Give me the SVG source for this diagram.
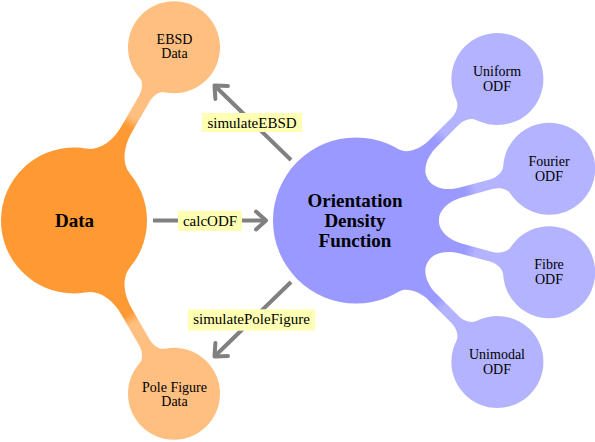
<svg xmlns="http://www.w3.org/2000/svg" width="595" height="442" viewBox="0 0 595 442">
  <style>
    .t { font-family: "Liberation Serif", "DejaVu Serif", serif; fill: #000; text-anchor: middle; }
    .big { font-size: 19px; font-weight: bold; }
    .small { font-size: 14px; }
    .lab { font-size: 15px; }
    .arrow { stroke: #808080; stroke-width: 4; fill: none; marker-end: url(#tip); }
    .labbox { fill: #FFFFB3; }
  </style>
  <defs>
    <linearGradient id="gOrange" gradientUnits="userSpaceOnUse" x1="108" y1="0" x2="119" y2="0">
      <stop offset="0" stop-color="#FF9933"/>
      <stop offset="1" stop-color="#FFBF80"/>
    </linearGradient>
    <linearGradient id="gBlue" gradientUnits="userSpaceOnUse" x1="113" y1="0" x2="124" y2="0">
      <stop offset="0" stop-color="#9999FF"/>
      <stop offset="1" stop-color="#B3B3FF"/>
    </linearGradient>
    <marker id="tip" markerUnits="userSpaceOnUse" viewBox="-14 -12 18 24" refX="0" refY="0" markerWidth="18" markerHeight="24" orient="auto">
      <path d="M-10,-9 L0,0 L-10,9" fill="none" stroke="#808080" stroke-width="4" stroke-linecap="round" stroke-linejoin="round"/>
    </marker>
  </defs>

  <g id="connectors">
    <g id="mindmap-links">
      <path fill="url(#gOrange)" transform="translate(74,220.5) rotate(-60)" d="M0,0 L68.6,-24.97 C72.7,-13.69 87,-6 105,-6 L140,-6 C148,-6 154.7,-9.45 156.25,-14.2 L200,0 L156.25,14.2 C154.7,9.45 148,6 140,6 L105,6 C87,6 72.7,13.69 68.6,24.97 Z"/>
      <path fill="url(#gOrange)" transform="translate(74,220.5) rotate(60)" d="M0,0 L68.6,-24.97 C72.7,-13.69 87,-6 105,-6 L140,-6 C148,-6 154.7,-9.45 156.25,-14.2 L200,0 L156.25,14.2 C154.7,9.45 148,6 140,6 L105,6 C87,6 72.7,13.69 68.6,24.97 Z"/>
      <path fill="url(#gBlue)" transform="translate(356,220.5) rotate(-45)" d="M0,0 L80.53,-20.08 C82.47,-12.32 94,-5 108,-5 L140,-5 C148,-5 154.7,-9.45 156.25,-14.2 L200,0 L156.25,14.2 C154.7,9.45 148,5 140,5 L108,5 C94,5 82.47,12.32 80.53,20.08 Z"/>
      <path fill="url(#gBlue)" transform="translate(356,220.5) rotate(-15)" d="M0,0 L80.53,-20.08 C82.47,-12.32 94,-5 108,-5 L140,-5 C148,-5 154.7,-9.45 156.25,-14.2 L200,0 L156.25,14.2 C154.7,9.45 148,5 140,5 L108,5 C94,5 82.47,12.32 80.53,20.08 Z"/>
      <path fill="url(#gBlue)" transform="translate(356,220.5) rotate(15)" d="M0,0 L80.53,-20.08 C82.47,-12.32 94,-5 108,-5 L140,-5 C148,-5 154.7,-9.45 156.25,-14.2 L200,0 L156.25,14.2 C154.7,9.45 148,5 140,5 L108,5 C94,5 82.47,12.32 80.53,20.08 Z"/>
      <path fill="url(#gBlue)" transform="translate(356,220.5) rotate(45)" d="M0,0 L80.53,-20.08 C82.47,-12.32 94,-5 108,-5 L140,-5 C148,-5 154.7,-9.45 156.25,-14.2 L200,0 L156.25,14.2 C154.7,9.45 148,5 140,5 L108,5 C94,5 82.47,12.32 80.53,20.08 Z"/>
    </g>
  </g>

  <g id="node-data">
    <circle cx="74" cy="220.5" r="73" fill="#FF9933"/>
    <text class="t big" x="74.5" y="226.7">Data</text>
  </g>
  <g id="node-ebsd">
    <circle cx="174" cy="47.3" r="46" fill="#FFBF80"/>
    <text class="t small" x="174.5" y="43.8">EBSD</text>
    <text class="t small" x="174.5" y="58.3">Data</text>
  </g>
  <g id="node-pole">
    <circle cx="174" cy="393.7" r="46" fill="#FFBF80"/>
    <text class="t small" x="174.5" y="391.5">Pole Figure</text>
    <text class="t small" x="174.5" y="406">Data</text>
  </g>
  <g id="node-odf">
    <circle cx="356" cy="220.5" r="83" fill="#9999FF"/>
    <text class="t big" x="355" y="207.3">Orientation</text>
    <text class="t big" x="355" y="227">Density</text>
    <text class="t big" x="355" y="246.7">Function</text>
  </g>
  <g id="node-uniform">
    <circle cx="497.4" cy="79.1" r="46" fill="#B3B3FF"/>
    <text class="t small" x="497" y="76">Uniform</text>
    <text class="t small" x="497" y="90.5">ODF</text>
  </g>
  <g id="node-fourier">
    <circle cx="549.2" cy="168.7" r="46" fill="#B3B3FF"/>
    <text class="t small" x="549" y="165.7">Fourier</text>
    <text class="t small" x="549" y="180.5">ODF</text>
  </g>
  <g id="node-fibre">
    <circle cx="549.2" cy="272.3" r="46" fill="#B3B3FF"/>
    <text class="t small" x="549" y="269.3">Fibre</text>
    <text class="t small" x="549" y="284.2">ODF</text>
  </g>
  <g id="node-unimodal">
    <circle cx="497.4" cy="361.9" r="46" fill="#B3B3FF"/>
    <text class="t small" x="497" y="359.3">Unimodal</text>
    <text class="t small" x="497" y="374.2">ODF</text>
  </g>

  <g id="arrows">
    <path class="arrow" d="M291,160 L214.5,85.5"/>
    <path class="arrow" d="M153,220.5 L266,220.5"/>
    <path class="arrow" d="M291,282 L214.5,356.5"/>
  </g>

  <g id="label-simulateEBSD">
    <rect class="labbox" x="202" y="113" width="100" height="19"/>
    <text class="t lab" x="252" y="127.5">simulateEBSD</text>
  </g>
  <g id="label-calcODF">
    <rect class="labbox" x="178" y="211" width="64" height="20"/>
    <text class="t lab" x="210" y="226.3">calcODF</text>
  </g>
  <g id="label-simulatePoleFigure">
    <rect class="labbox" x="188" y="309.3" width="127" height="21.4"/>
    <text class="t lab" x="251.5" y="324.2">simulatePoleFigure</text>
  </g>
</svg>
